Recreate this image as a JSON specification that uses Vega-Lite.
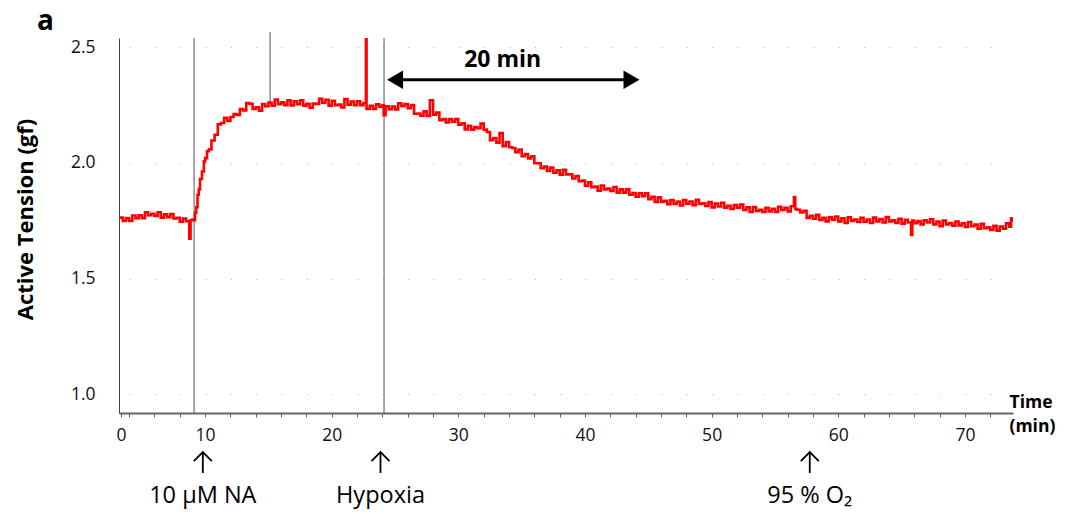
{
  "$schema": "https://vega.github.io/schema/vega-lite/v6.json",
  "width": 894,
  "height": 375,
  "autosize": "none",
  "padding": {"left": 119, "top": 38, "right": 54, "bottom": 101},
  "background": "white",
  "config": {"view": {"stroke": null}, "font": "Open Sans"},
  "title": {"text": "a", "anchor": "start", "frame": "group", "dx": -82, "offset": -5, "fontSize": 28, "fontWeight": "bold", "color": "#000", "font": "Open Sans"},
  "datasets": {
    "tension": [
      {"t": 3.25, "v": 1.763}, {"t": 3.5, "v": 1.749}, {"t": 3.75, "v": 1.761}, {"t": 4.0, "v": 1.749},
      {"t": 4.25, "v": 1.772}, {"t": 4.5, "v": 1.761}, {"t": 4.75, "v": 1.773}, {"t": 5.0, "v": 1.761},
      {"t": 5.25, "v": 1.786}, {"t": 5.5, "v": 1.773}, {"t": 5.75, "v": 1.78}, {"t": 6.0, "v": 1.77},
      {"t": 6.25, "v": 1.786}, {"t": 6.5, "v": 1.763}, {"t": 6.75, "v": 1.777}, {"t": 7.0, "v": 1.765},
      {"t": 7.25, "v": 1.778}, {"t": 7.5, "v": 1.759}, {"t": 7.75, "v": 1.762}, {"t": 8.0, "v": 1.745},
      {"t": 8.25, "v": 1.759}, {"t": 8.5, "v": 1.748}, {"t": 8.75, "v": 1.672}, {"t": 8.85, "v": 1.752},
      {"t": 9.0, "v": 1.755}, {"t": 9.1, "v": 1.752}, {"t": 9.2, "v": 1.784}, {"t": 9.3, "v": 1.808},
      {"t": 9.4, "v": 1.862}, {"t": 9.5, "v": 1.886}, {"t": 9.6, "v": 1.93}, {"t": 9.75, "v": 1.962},
      {"t": 9.9, "v": 2.006}, {"t": 10.0, "v": 2.02}, {"t": 10.15, "v": 2.05}, {"t": 10.3, "v": 2.058},
      {"t": 10.5, "v": 2.096}, {"t": 10.75, "v": 2.121}, {"t": 11.0, "v": 2.166}, {"t": 11.25, "v": 2.172},
      {"t": 11.5, "v": 2.194}, {"t": 11.75, "v": 2.181}, {"t": 12.0, "v": 2.198}, {"t": 12.25, "v": 2.21},
      {"t": 12.5, "v": 2.207}, {"t": 12.75, "v": 2.232}, {"t": 13.0, "v": 2.226}, {"t": 13.25, "v": 2.258},
      {"t": 13.5, "v": 2.255}, {"t": 13.75, "v": 2.232}, {"t": 14.0, "v": 2.24}, {"t": 14.25, "v": 2.225},
      {"t": 14.5, "v": 2.254}, {"t": 14.75, "v": 2.244}, {"t": 15.0, "v": 2.26}, {"t": 15.25, "v": 2.246},
      {"t": 15.5, "v": 2.273}, {"t": 15.75, "v": 2.253}, {"t": 16.0, "v": 2.261}, {"t": 16.25, "v": 2.249},
      {"t": 16.5, "v": 2.27}, {"t": 16.75, "v": 2.248}, {"t": 17.0, "v": 2.266}, {"t": 17.25, "v": 2.253},
      {"t": 17.5, "v": 2.27}, {"t": 17.75, "v": 2.247}, {"t": 18.0, "v": 2.255}, {"t": 18.25, "v": 2.238},
      {"t": 18.5, "v": 2.256}, {"t": 18.75, "v": 2.254}, {"t": 19.0, "v": 2.276}, {"t": 19.25, "v": 2.259},
      {"t": 19.5, "v": 2.272}, {"t": 19.75, "v": 2.246}, {"t": 20.0, "v": 2.268}, {"t": 20.25, "v": 2.249},
      {"t": 20.5, "v": 2.251}, {"t": 20.75, "v": 2.239}, {"t": 21.0, "v": 2.275}, {"t": 21.25, "v": 2.251},
      {"t": 21.5, "v": 2.265}, {"t": 21.75, "v": 2.249}, {"t": 22.0, "v": 2.266}, {"t": 22.25, "v": 2.249},
      {"t": 22.5, "v": 2.258}, {"t": 22.7, "v": 2.536}, {"t": 22.75, "v": 2.233}, {"t": 23.0, "v": 2.246},
      {"t": 23.25, "v": 2.233}, {"t": 23.5, "v": 2.253}, {"t": 23.75, "v": 2.242}, {"t": 24.0, "v": 2.248},
      {"t": 24.1, "v": 2.205}, {"t": 24.25, "v": 2.244}, {"t": 24.5, "v": 2.231}, {"t": 24.75, "v": 2.243},
      {"t": 25.0, "v": 2.23}, {"t": 25.25, "v": 2.257}, {"t": 25.5, "v": 2.245}, {"t": 25.75, "v": 2.254},
      {"t": 26.0, "v": 2.236}, {"t": 26.25, "v": 2.249}, {"t": 26.5, "v": 2.212}, {"t": 26.75, "v": 2.213},
      {"t": 27.0, "v": 2.203}, {"t": 27.25, "v": 2.222}, {"t": 27.5, "v": 2.202}, {"t": 27.75, "v": 2.27},
      {"t": 28.0, "v": 2.208}, {"t": 28.25, "v": 2.217}, {"t": 28.5, "v": 2.184}, {"t": 28.75, "v": 2.189},
      {"t": 29.0, "v": 2.174}, {"t": 29.25, "v": 2.189}, {"t": 29.5, "v": 2.177}, {"t": 29.75, "v": 2.189},
      {"t": 30.0, "v": 2.164}, {"t": 30.25, "v": 2.171}, {"t": 30.5, "v": 2.144}, {"t": 30.75, "v": 2.16},
      {"t": 31.0, "v": 2.143}, {"t": 31.25, "v": 2.154}, {"t": 31.5, "v": 2.149}, {"t": 31.75, "v": 2.169},
      {"t": 32.0, "v": 2.143}, {"t": 32.25, "v": 2.133}, {"t": 32.5, "v": 2.098}, {"t": 32.75, "v": 2.107},
      {"t": 33.0, "v": 2.087}, {"t": 33.25, "v": 2.128}, {"t": 33.5, "v": 2.072}, {"t": 33.75, "v": 2.09},
      {"t": 34.0, "v": 2.067}, {"t": 34.25, "v": 2.064}, {"t": 34.5, "v": 2.046}, {"t": 34.75, "v": 2.057},
      {"t": 35.0, "v": 2.028}, {"t": 35.25, "v": 2.038}, {"t": 35.5, "v": 2.019}, {"t": 35.75, "v": 2.028},
      {"t": 36.0, "v": 1.998}, {"t": 36.25, "v": 1.998}, {"t": 36.5, "v": 1.976}, {"t": 36.75, "v": 1.984},
      {"t": 37.0, "v": 1.965}, {"t": 37.25, "v": 1.979}, {"t": 37.5, "v": 1.957}, {"t": 37.75, "v": 1.968},
      {"t": 38.0, "v": 1.948}, {"t": 38.25, "v": 1.97}, {"t": 38.5, "v": 1.95}, {"t": 38.75, "v": 1.95},
      {"t": 39.0, "v": 1.932}, {"t": 39.25, "v": 1.943}, {"t": 39.5, "v": 1.92}, {"t": 39.75, "v": 1.923},
      {"t": 40.0, "v": 1.901}, {"t": 40.25, "v": 1.916}, {"t": 40.5, "v": 1.894}, {"t": 40.75, "v": 1.897},
      {"t": 41.0, "v": 1.879}, {"t": 41.25, "v": 1.902}, {"t": 41.5, "v": 1.885}, {"t": 41.75, "v": 1.889},
      {"t": 42.0, "v": 1.878}, {"t": 42.25, "v": 1.895}, {"t": 42.5, "v": 1.871}, {"t": 42.75, "v": 1.885},
      {"t": 43.0, "v": 1.871}, {"t": 43.25, "v": 1.885}, {"t": 43.5, "v": 1.862}, {"t": 43.75, "v": 1.869},
      {"t": 44.0, "v": 1.853}, {"t": 44.25, "v": 1.868}, {"t": 44.5, "v": 1.856}, {"t": 44.75, "v": 1.868},
      {"t": 45.0, "v": 1.843}, {"t": 45.25, "v": 1.853}, {"t": 45.5, "v": 1.831}, {"t": 45.75, "v": 1.851},
      {"t": 46.0, "v": 1.832}, {"t": 46.25, "v": 1.836}, {"t": 46.5, "v": 1.821}, {"t": 46.75, "v": 1.839},
      {"t": 47.0, "v": 1.822}, {"t": 47.25, "v": 1.832}, {"t": 47.5, "v": 1.816}, {"t": 47.75, "v": 1.839},
      {"t": 48.0, "v": 1.823}, {"t": 48.25, "v": 1.833}, {"t": 48.5, "v": 1.817}, {"t": 48.75, "v": 1.84},
      {"t": 49.0, "v": 1.822}, {"t": 49.25, "v": 1.825}, {"t": 49.5, "v": 1.813}, {"t": 49.75, "v": 1.83},
      {"t": 50.0, "v": 1.807}, {"t": 50.25, "v": 1.824}, {"t": 50.5, "v": 1.811}, {"t": 50.75, "v": 1.827},
      {"t": 51.0, "v": 1.806}, {"t": 51.25, "v": 1.814}, {"t": 51.5, "v": 1.8}, {"t": 51.75, "v": 1.817},
      {"t": 52.0, "v": 1.806}, {"t": 52.25, "v": 1.819}, {"t": 52.5, "v": 1.796}, {"t": 52.75, "v": 1.808},
      {"t": 53.0, "v": 1.787}, {"t": 53.25, "v": 1.809}, {"t": 53.5, "v": 1.792}, {"t": 53.75, "v": 1.797},
      {"t": 54.0, "v": 1.787}, {"t": 54.25, "v": 1.805}, {"t": 54.5, "v": 1.79}, {"t": 54.75, "v": 1.801},
      {"t": 55.0, "v": 1.787}, {"t": 55.25, "v": 1.81}, {"t": 55.5, "v": 1.796}, {"t": 55.75, "v": 1.806},
      {"t": 56.0, "v": 1.79}, {"t": 56.25, "v": 1.812}, {"t": 56.5, "v": 1.852}, {"t": 56.6, "v": 1.8},
      {"t": 56.75, "v": 1.797}, {"t": 57.0, "v": 1.785}, {"t": 57.25, "v": 1.793}, {"t": 57.5, "v": 1.762},
      {"t": 57.75, "v": 1.771}, {"t": 58.0, "v": 1.758}, {"t": 58.25, "v": 1.775}, {"t": 58.5, "v": 1.753},
      {"t": 58.75, "v": 1.762}, {"t": 59.0, "v": 1.747}, {"t": 59.25, "v": 1.764}, {"t": 59.5, "v": 1.754},
      {"t": 59.75, "v": 1.768}, {"t": 60.0, "v": 1.747}, {"t": 60.25, "v": 1.76}, {"t": 60.5, "v": 1.74},
      {"t": 60.75, "v": 1.764}, {"t": 61.0, "v": 1.749}, {"t": 61.25, "v": 1.755}, {"t": 61.5, "v": 1.744},
      {"t": 61.75, "v": 1.762}, {"t": 62.0, "v": 1.745}, {"t": 62.25, "v": 1.755}, {"t": 62.5, "v": 1.74},
      {"t": 62.75, "v": 1.763}, {"t": 63.0, "v": 1.747}, {"t": 63.25, "v": 1.757}, {"t": 63.5, "v": 1.742},
      {"t": 63.75, "v": 1.765}, {"t": 64.0, "v": 1.747}, {"t": 64.25, "v": 1.751}, {"t": 64.5, "v": 1.74},
      {"t": 64.75, "v": 1.758}, {"t": 65.0, "v": 1.737}, {"t": 65.25, "v": 1.754}, {"t": 65.5, "v": 1.742},
      {"t": 65.75, "v": 1.688}, {"t": 65.85, "v": 1.75}, {"t": 66.0, "v": 1.739}, {"t": 66.25, "v": 1.748},
      {"t": 66.5, "v": 1.734}, {"t": 66.75, "v": 1.752}, {"t": 67.0, "v": 1.742}, {"t": 67.25, "v": 1.756},
      {"t": 67.5, "v": 1.734}, {"t": 67.75, "v": 1.746}, {"t": 68.0, "v": 1.726}, {"t": 68.25, "v": 1.75},
      {"t": 68.5, "v": 1.734}, {"t": 68.75, "v": 1.74}, {"t": 69.0, "v": 1.728}, {"t": 69.25, "v": 1.746},
      {"t": 69.5, "v": 1.729}, {"t": 69.75, "v": 1.739}, {"t": 70.0, "v": 1.723}, {"t": 70.25, "v": 1.744},
      {"t": 70.5, "v": 1.726}, {"t": 70.75, "v": 1.733}, {"t": 71.0, "v": 1.715}, {"t": 71.25, "v": 1.736},
      {"t": 71.5, "v": 1.717}, {"t": 71.75, "v": 1.721}, {"t": 72.0, "v": 1.71}, {"t": 72.25, "v": 1.728},
      {"t": 72.5, "v": 1.707}, {"t": 72.75, "v": 1.725}, {"t": 73.0, "v": 1.715}, {"t": 73.25, "v": 1.738},
      {"t": 73.5, "v": 1.724}, {"t": 73.65, "v": 1.76}, {"t": 73.75, "v": 1.745}
    ],
    "eventLines": [
      {"t": 9.13, "v": 0.919, "v2": 2.539},
      {"t": 15.13, "v": 2.255, "v2": 2.565},
      {"t": 24.13, "v": 0.919, "v2": 2.539}
    ],
    "span": [{"t": 25.1, "t2": 43.57, "v": 2.359}],
    "spanHeads": [
      {"t": 25.0, "v": 2.359, "dir": "left"},
      {"t": 43.67, "v": 2.359, "dir": "right"}
    ],
    "spanLabel": [{"t": 33.5, "v": 2.415, "label": "20 min"}],
    "treatmentShafts": [
      {"t": 9.82, "v": 0.751, "v2": 0.66},
      {"t": 23.85, "v": 0.751, "v2": 0.66},
      {"t": 57.75, "v": 0.751, "v2": 0.66}
    ],
    "treatmentHeads": [
      {"t": 9.82, "v": 0.731},
      {"t": 23.85, "v": 0.731},
      {"t": 57.75, "v": 0.731}
    ],
    "treatmentLabels": [
      {"t": 9.82, "v": 0.53, "label": "10 µM NA"},
      {"t": 23.85, "v": 0.53, "label": "Hypoxia"},
      {"t": 57.75, "v": 0.53, "label": "95 % O₂"}
    ]
  },
  "encoding": {
    "x": {
      "field": "t",
      "type": "quantitative",
      "scale": {"domain": [3.2, 73.8], "nice": false, "zero": false},
      "axis": {
        "values": [3.36, 4, 6, 8, 10, 12, 14, 16, 18, 20, 22, 24, 26, 28, 30, 32, 34, 36, 38, 40, 42, 44, 46, 48, 50, 52, 54, 56, 58, 60, 62, 64, 66, 68, 70, 72],
        "labelExpr": "datum.value < 4 ? '0' : (datum.value % 10 === 0 ? datum.label : '')",
        "labelOverlap": false,
        "labelFlush": false,
        "tickSize": 4,
        "tickColor": "#666",
        "domainColor": "#666",
        "domainWidth": 2,
        "labelFontSize": 17.5,
        "labelColor": "#111",
        "labelPadding": 9,
        "grid": false,
        "title": ["Time", "(min)"],
        "titleX": 890,
        "titleY": -6,
        "titleAlign": "left",
        "titleBaseline": "alphabetic",
        "titleFontSize": 17.5,
        "titleFontWeight": "bold",
        "titleLineHeight": 24,
        "titleColor": "#000"
      }
    },
    "y": {
      "field": "v",
      "type": "quantitative",
      "scale": {"domain": [0.919, 2.539], "nice": false, "zero": false},
      "axis": {
        "values": [1, 1.5, 2, 2.5],
        "format": ".1f",
        "ticks": false,
        "domainColor": "#444",
        "domainWidth": 1,
        "labelFontSize": 17.5,
        "labelColor": "#111",
        "labelPadding": 24,
        "grid": true,
        "gridColor": "#b5b5b5",
        "gridDash": [1, 24.32],
        "gridDashOffset": 15,
        "gridWidth": 1,
        "title": "Active Tension (gf)",
        "titleFontSize": 22,
        "titleFontWeight": "bold",
        "titleColor": "#000",
        "titleX": -94,
        "titleY": 181,
        "titleAngle": -90,
        "titleAlign": "center",
        "titleBaseline": "middle"
      }
    }
  },
  "layer": [
    {
      "data": {"name": "eventLines"},
      "mark": {"type": "rule", "color": "#555", "strokeWidth": 1},
      "encoding": {"y2": {"field": "v2"}}
    },
    {
      "data": {"name": "tension"},
      "mark": {"type": "line", "color": "#ff0000", "strokeWidth": 2.6, "interpolate": "step-after", "clip": true},
      "encoding": {}
    },
    {
      "data": {"name": "span"},
      "mark": {"type": "rule", "color": "#000", "strokeWidth": 3},
      "encoding": {"x2": {"field": "t2"}}
    },
    {
      "data": {"name": "spanHeads"},
      "mark": {"type": "point", "filled": true, "color": "#000", "opacity": 1, "size": 340},
      "encoding": {
        "shape": {"field": "dir", "type": "nominal", "scale": {"domain": ["left", "right"], "range": ["triangle-left", "triangle-right"]}, "legend": null}
      }
    },
    {
      "data": {"name": "spanLabel"},
      "mark": {"type": "text", "font": "Open Sans", "fontSize": 23, "fontWeight": "bold", "color": "#000", "baseline": "alphabetic", "align": "center"},
      "encoding": {"text": {"field": "label"}}
    },
    {
      "data": {"name": "treatmentShafts"},
      "mark": {"type": "rule", "color": "#000", "strokeWidth": 1.8},
      "encoding": {"y2": {"field": "v2"}}
    },
    {
      "data": {"name": "treatmentHeads"},
      "mark": {"type": "point", "shape": "M -1 0.5 L 0 -0.5 L 1 0.5", "filled": false, "color": "#000", "opacity": 1, "strokeWidth": 1.8, "size": 324},
      "encoding": {}
    },
    {
      "data": {"name": "treatmentLabels"},
      "mark": {"type": "text", "font": "Open Sans", "fontSize": 23.5, "color": "#000", "baseline": "alphabetic", "align": "center"},
      "encoding": {"text": {"field": "label"}}
    }
  ]
}
